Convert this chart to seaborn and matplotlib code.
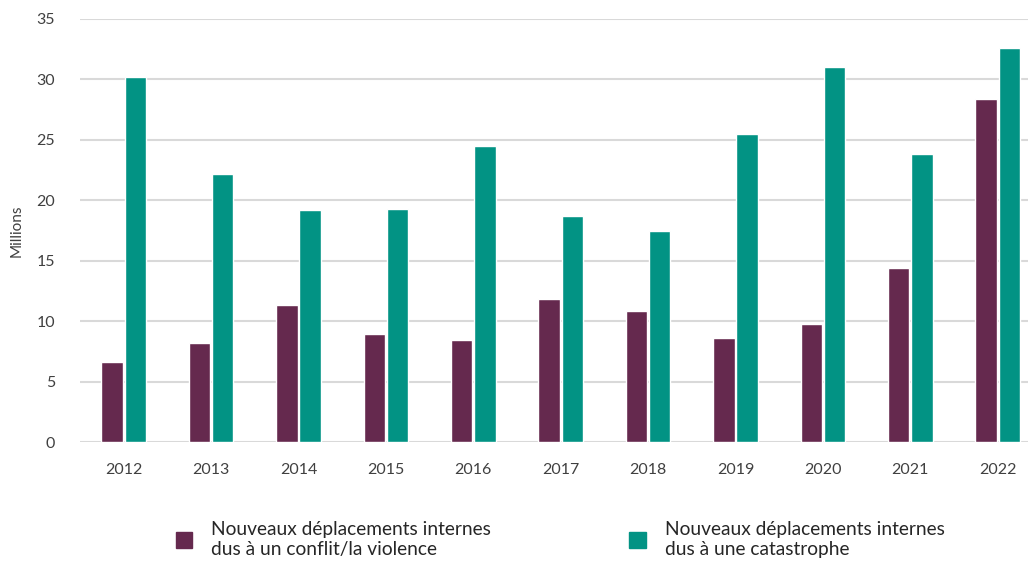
import pandas as pd
import seaborn as sns
import matplotlib.pyplot as plt
from matplotlib.patches import Patch

years = ['2012', '2013', '2014', '2015', '2016', '2017', '2018', '2019', '2020', '2021', '2022']
conflit = [6.6, 8.2, 11.3, 8.9, 8.4, 11.8, 10.8, 8.6, 9.8, 14.4, 28.4]
catastrophe = [30.2, 22.2, 19.2, 19.3, 24.5, 18.7, 17.5, 25.5, 31.0, 23.8, 32.6]
labels = ['Nouveaux déplacements internes\ndus à un conflit/la violence',
          'Nouveaux déplacements internes\ndus à une catastrophe']
colors = ['#65294e', '#029384']

sns.set_style('white')
plt.rcParams['font.family'] = ['Lato', 'DejaVu Sans']

df = pd.DataFrame({'year': years * 2,
                   'value': conflit + catastrophe,
                   'type': [labels[0]] * len(years) + [labels[1]] * len(years)})

fig = plt.figure(figsize=(10.28, 5.62), dpi=100)
ax = fig.add_axes([80 / 1028, 120 / 562, 948 / 1028, 423 / 562])

sns.barplot(data=df, x='year', y='value', hue='type', palette=colors,
            saturation=1, width=0.53, gap=0.07, ax=ax, legend=False, zorder=3)

ax.set_xlim(-0.5, -0.5 + 948 / 87.4)
ax.set_ylim(0, 35)
ax.set_yticks(range(0, 36, 5))
ax.grid(axis='y', color='#d9d9d9', linewidth=1.5, zorder=0)
ax.set_axisbelow(True)
for s in ax.spines.values():
    s.set_visible(False)
ax.tick_params(axis='both', length=0, labelsize=11.5, labelcolor='#404040')
ax.tick_params(axis='y', pad=18)
ax.tick_params(axis='x', pad=15)
ax.set_xlabel('')
ax.set_ylabel('Millions', fontsize=11, color='#404040')
ax.yaxis.set_label_coords(-0.059, 0.5)

handles = [Patch(color=c) for c in colors]
fig.legend(handles, labels, loc='center', bbox_to_anchor=(0.545, 0.04), ncol=2,
           frameon=False, fontsize=13.8, handlelength=0.85, handleheight=0.95,
           columnspacing=7.2, handletextpad=1.0, labelcolor='#262626')

fig.savefig('out.png', dpi=100)
